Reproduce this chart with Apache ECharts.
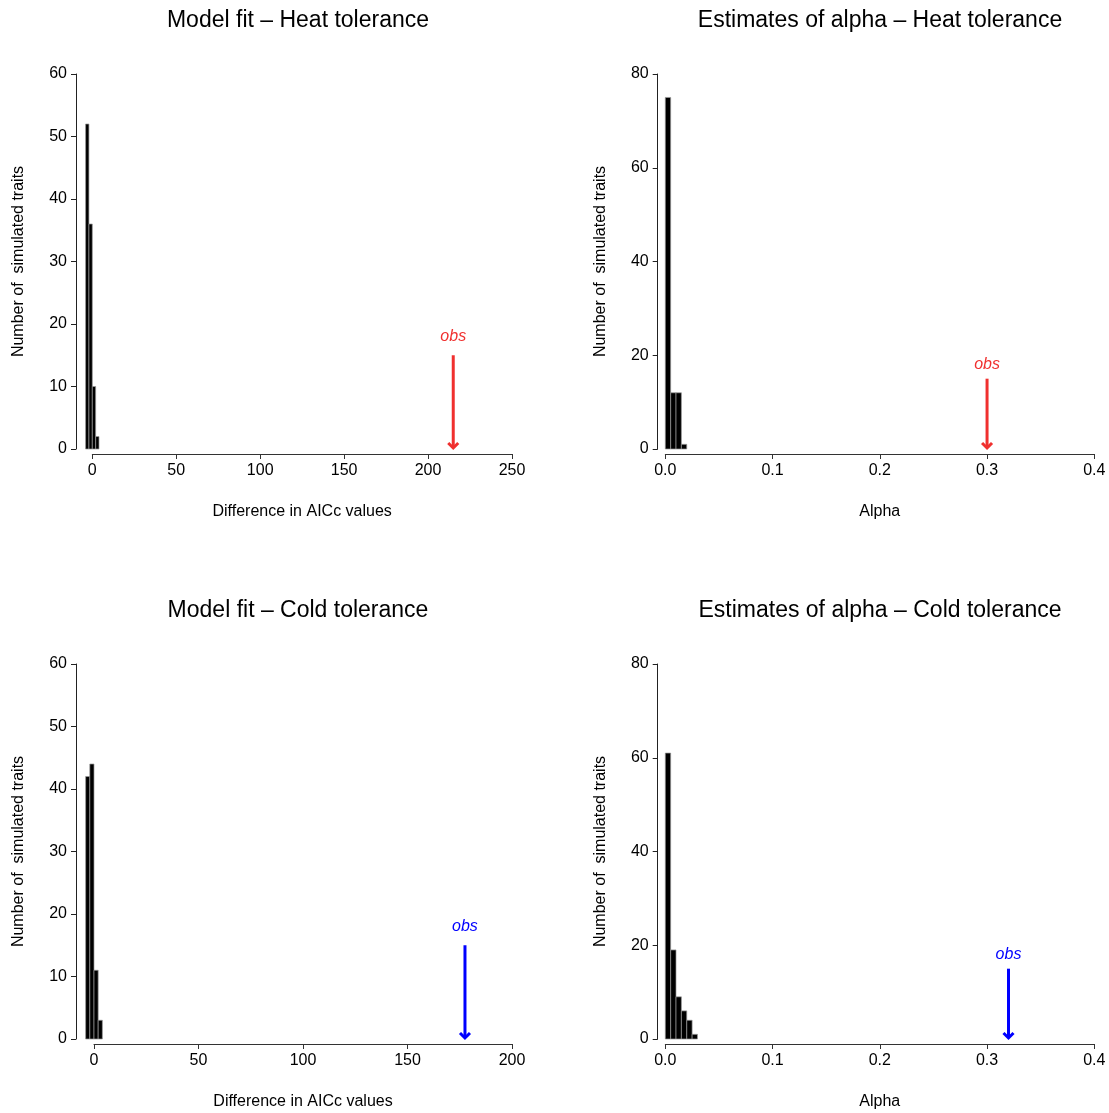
<!DOCTYPE html>
<html>
<head>
<meta charset="utf-8">
<title>Simulated traits</title>
<script src="https://cdn.jsdelivr.net/npm/echarts@6/dist/echarts.min.js"></script>
<style>
  html, body { margin: 0; padding: 0; background: #fff; }
  #myEcharts { width: 1109px; height: 1113px; }
</style>
</head>
<body>
<div id="myEcharts"></div>
<script>
// histogram breaks and counts, one pair per panel
const heatFitBreaks = [-4, -2, 0, 2, 4]
const heatFitCounts = [52, 36, 10, 2]
const heatAlphaBreaks = [0, 0.005, 0.01, 0.015, 0.02]
const heatAlphaCounts = [75, 12, 12, 1]
const coldFitBreaks = [-4, -2, 0, 2, 4]
const coldFitCounts = [42, 44, 11, 3]
const coldAlphaBreaks = [0, 0.005, 0.01, 0.015, 0.02, 0.025, 0.03]
const coldAlphaCounts = [61, 19, 9, 6, 4, 1]

// observed values (arrow position), arrow top and label height
const obsValues = [215, 0.3, 177.5, 0.32]
const obsArrowTop = 15
const obsLabelY = 18

const titles = [
  'Model fit \u2013 Heat tolerance',
  'Estimates of alpha \u2013 Heat tolerance',
  'Model fit \u2013 Cold tolerance',
  'Estimates of alpha \u2013 Cold tolerance'
]
const xNames = ['Difference in AICc values', 'Alpha', 'Difference in AICc values', 'Alpha']
const yName = 'Number of  simulated traits'
const xMax = [250, 0.4, 200, 0.4]
const xStep = [50, 0.1, 50, 0.1]
const yMax = [60, 80, 60, 80]
const yStep = [10, 20, 10, 20]

const font = 'Liberation Sans, Arial, Helvetica, sans-serif'
const red = '#f0302f'
const blue = '#0000ff'
const obsColors = [red, red, blue, blue]

// panel rectangles (x = 0 .. max, y = 0 .. max)
const panels = [
  { left: 92.3, top: 74, width: 419.7, height: 375, yOff: 16.3, titleX: 298 },
  { left: 665.3, top: 74, width: 429, height: 375, yOff: 7.6, titleX: 880 },
  { left: 94, top: 664, width: 418, height: 375, yOff: 18, titleX: 298 },
  { left: 665.3, top: 664, width: 429, height: 375, yOff: 7.6, titleX: 880 }
]

const histData = (breaks, counts) => counts.map((c, i) => [breaks[i], breaks[i + 1], c])
const hists = [
  histData(heatFitBreaks, heatFitCounts),
  histData(heatAlphaBreaks, heatAlphaCounts),
  histData(coldFitBreaks, coldFitCounts),
  histData(coldAlphaBreaks, coldAlphaCounts)
]

const chart = echarts.init(document.getElementById('myEcharts'), null, { renderer: 'canvas' })

const option = {
  backgroundColor: '#fff',
  animation: false,
  textStyle: { fontFamily: font, color: '#000' },
  title: panels.map((p, i) => ({
    text: titles[i],
    left: p.titleX,
    top: i < 2 ? 9 : 599,
    textAlign: 'center',
    padding: 0,
    textStyle: { fontSize: 23, fontWeight: 'normal', color: '#000', fontFamily: font }
  })),
  grid: panels.map(p => ({ left: p.left, top: p.top, width: p.width, height: p.height })),
  xAxis: panels.map((p, i) => ({
    type: 'value',
    gridIndex: i,
    min: 0,
    max: xMax[i],
    interval: xStep[i],
    offset: 5,
    splitLine: { show: false },
    axisLine: { show: true, onZero: false, lineStyle: { color: '#333', width: 1 } },
    axisTick: { length: 5, lineStyle: { color: '#333' } },
    axisLabel: {
      margin: 9,
      fontSize: 16,
      color: '#000',
      fontFamily: font,
      formatter: v => (xStep[i] < 1 ? v.toFixed(1) : String(v))
    },
    name: xNames[i],
    nameLocation: 'middle',
    nameGap: 50,
    nameTextStyle: { fontSize: 16, color: '#000', fontFamily: font }
  })),
  yAxis: panels.map((p, i) => ({
    type: 'value',
    gridIndex: i,
    min: 0,
    max: yMax[i],
    interval: yStep[i],
    offset: p.yOff,
    splitLine: { show: false },
    axisLine: { show: true, onZero: false, lineStyle: { color: '#222', width: 1 } },
    axisTick: { show: true, length: 5, lineStyle: { color: '#222' } },
    axisLabel: { margin: 9, fontSize: 16, color: '#000', fontFamily: font },
    name: yName,
    nameLocation: 'middle',
    nameGap: 49,
    nameTextStyle: { fontSize: 16, color: '#000', fontFamily: font }
  })),
  series: []
}

// histogram bars
hists.forEach((d, i) => {
  option.series.push({
    type: 'custom',
    xAxisIndex: i,
    yAxisIndex: i,
    clip: false,
    data: d,
    encode: { x: [0, 1], y: 2 },
    renderItem: (params, api) => {
      const a = api.coord([api.value(0), api.value(2)])
      const b = api.coord([api.value(1), 0])
      return {
        type: 'rect',
        shape: { x: a[0], y: a[1], width: b[0] - a[0], height: b[1] - a[1] },
        style: { fill: '#000', stroke: '#9a9a9a', lineWidth: 0.7 }
      }
    }
  })
})

// obs arrows
obsValues.forEach((v, i) => {
  option.series.push({
    type: 'custom',
    xAxisIndex: i,
    yAxisIndex: i,
    clip: false,
    data: [[v, obsArrowTop, obsLabelY]],
    encode: { x: 0, y: [1, 2] },
    renderItem: (params, api) => {
      const top = api.coord([api.value(0), api.value(1)])
      const tip = api.coord([api.value(0), 0])
      const lab = api.coord([api.value(0), api.value(2)])
      const c = obsColors[i]
      return {
        type: 'group',
        children: [
          {
            type: 'line',
            shape: { x1: top[0], y1: top[1], x2: tip[0], y2: tip[1] - 1 },
            style: { stroke: c, lineWidth: 3 }
          },
          {
            type: 'polyline',
            shape: { points: [[tip[0] - 5, tip[1] - 6], [tip[0], tip[1] - 1], [tip[0] + 5, tip[1] - 6]] },
            style: { stroke: c, lineWidth: 3, fill: null }
          },
          {
            type: 'text',
            x: lab[0],
            y: lab[1],
            style: {
              text: 'obs',
              fill: c,
              fontSize: 16,
              fontStyle: 'italic',
              fontFamily: font,
              align: 'center',
              verticalAlign: 'middle'
            }
          }
        ]
      }
    }
  })
})

chart.setOption(option)
</script>
</body>
</html>
